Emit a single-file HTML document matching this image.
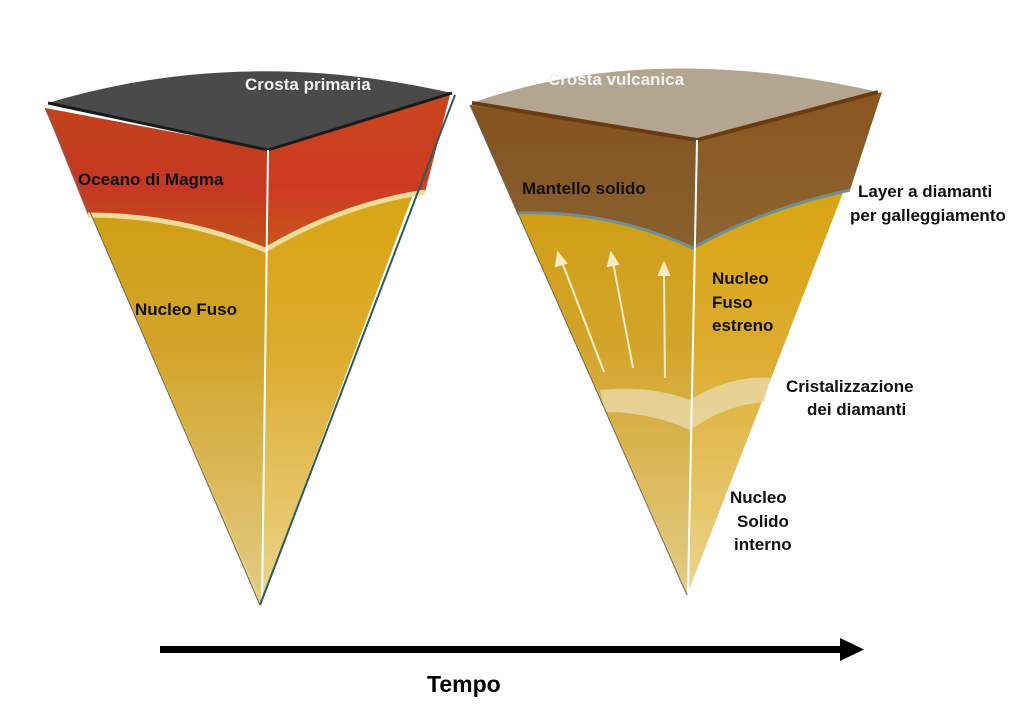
<!DOCTYPE html>
<html><head><meta charset="utf-8"><style>
html,body{margin:0;padding:0;background:#fff;}
svg{display:block}
text{font-family:"Liberation Sans",sans-serif;font-weight:bold;}
</style></head><body>
<svg width="1024" height="713" viewBox="0 0 1024 713" xmlns="http://www.w3.org/2000/svg">
<defs>
<linearGradient id="gold" x1="0" y1="0" x2="0" y2="1">
<stop offset="0" stop-color="#d6a106"/><stop offset="0.5" stop-color="#dcab2c"/><stop offset="1" stop-color="#ecd58e"/>
</linearGradient>
<linearGradient id="magma" x1="0" y1="0" x2="0" y2="1">
<stop offset="0" stop-color="#c8461c"/><stop offset="0.6" stop-color="#d03a24"/><stop offset="1" stop-color="#c8561c"/>
</linearGradient>
<linearGradient id="brown" x1="0" y1="0" x2="0" y2="1">
<stop offset="0" stop-color="#8a5520"/><stop offset="1" stop-color="#8e6530"/>
</linearGradient>
</defs>
<!-- LEFT CONE -->
<polygon points="45,108 268,150 450,95 260,605" fill="url(#gold)"/>
<path d="M45,108 L268,150 L450,95 L425,192 Q340,205 265,250 Q180,215 88,215 Z" fill="url(#magma)"/>
<polygon points="45,108 268,150 262,603" fill="#000" opacity="0.04"/>
<path d="M48,103 Q240,45 452,93 L268,150 Z" fill="#4a4a4a"/>
<path d="M48,103 L268,150 L452,93" fill="none" stroke="#1a1a1a" stroke-width="3"/>
<path d="M88,215 Q180,215 265,250 Q340,205 425,192" fill="none" stroke="#eedc9a" stroke-width="5"/>
<line x1="268" y1="150" x2="262" y2="603" stroke="#fff" stroke-width="2"/>
<line x1="455" y1="95" x2="260" y2="605" stroke="#2a5a5a" stroke-width="2"/>
<line x1="45" y1="108" x2="260" y2="605" stroke="#666" stroke-width="1"/>
<text x="245" y="90" fill="#f2f2f2" font-size="17">Crosta primaria</text>
<text x="78" y="185" fill="#111" font-size="17">Oceano di Magma</text>
<text x="135" y="315" fill="#111" font-size="17">Nucleo Fuso</text>
<!-- RIGHT CONE -->
<polygon points="470,105 697,140 882,92 687,595" fill="url(#gold)"/>
<path d="M470,105 L697,140 L882,92 L850,190 Q760,210 693,248 Q610,210 517,213 Z" fill="url(#brown)"/>
<polygon points="470,105 697,140 688,593" fill="#000" opacity="0.04"/>
<path d="M472,103 Q650,40 878,92 L697,140 Z" fill="#b3a590"/>
<path d="M472,103 L697,140 L878,92" fill="none" stroke="#6a3a10" stroke-width="4"/>
<path d="M517,213 Q610,210 693,248 Q760,210 850,190" fill="none" stroke="#6e9090" stroke-width="3"/>
<path d="M600,390 Q650,385 690,400 Q730,375 770,378 L765,402 Q725,405 690,430 Q650,412 605,412 Z" fill="#eadcb0" opacity="0.75"/>
<line x1="697" y1="140" x2="688" y2="593" stroke="#fff" stroke-width="2"/>
<line x1="470" y1="105" x2="687" y2="595" stroke="#666" stroke-width="1"/>
<g stroke="#f5edc8" stroke-width="2" fill="#f5edc8">
<line x1="604" y1="372" x2="562" y2="262"/><polygon points="558,253 556,266 566,263"/>
<line x1="633" y1="368" x2="613" y2="262"/><polygon points="611,253 608,266 618,264"/>
<line x1="665" y1="378" x2="664" y2="273"/><polygon points="664,263 659,275 669,275"/>
</g>
<text x="548" y="85" fill="#f2f2f2" font-size="17">Crosta vulcanica</text>
<text x="522" y="194" fill="#111" font-size="17">Mantello solido</text>
<text x="858" y="197" fill="#111" font-size="17">Layer a diamanti</text>
<text x="850" y="221" fill="#111" font-size="17">per galleggiamento</text>
<text x="712" y="284" fill="#111" font-size="17">Nucleo</text>
<text x="712" y="308" fill="#111" font-size="17">Fuso</text>
<text x="712" y="331" fill="#111" font-size="17">estreno</text>
<text x="786" y="392" fill="#111" font-size="17">Cristalizzazione</text>
<text x="807" y="415" fill="#111" font-size="17">dei diamanti</text>
<text x="730" y="503" fill="#111" font-size="17">Nucleo</text>
<text x="737" y="527" fill="#111" font-size="17">Solido</text>
<text x="734" y="550" fill="#111" font-size="17">interno</text>
<!-- time arrow -->
<rect x="160" y="646" width="684" height="7" fill="#000"/>
<polygon points="840,638 864,649.5 840,661" fill="#000"/>
<text x="427" y="692" fill="#000" font-size="23">Tempo</text>
</svg>
</body></html>
